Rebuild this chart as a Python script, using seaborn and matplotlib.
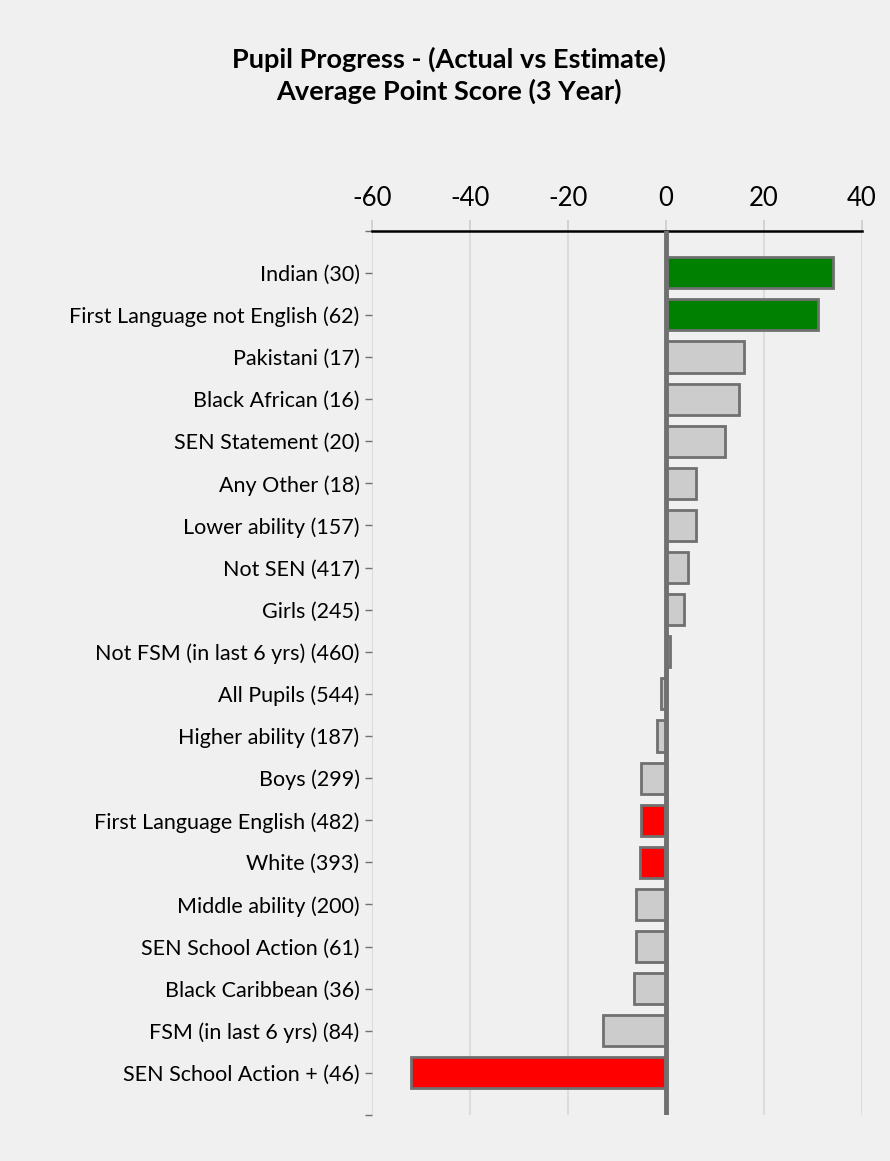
import numpy as np
import pandas as pd
import seaborn as sns
import matplotlib.pyplot as plt

groups = [
    "Indian (30)", "First Language not English (62)", "Pakistani (17)",
    "Black African (16)", "SEN Statement (20)", "Any Other (18)",
    "Lower ability (157)", "Not SEN (417)", "Girls (245)",
    "Not FSM (in last 6 yrs) (460)", "All Pupils (544)", "Higher ability (187)",
    "Boys (299)", "First Language English (482)", "White (393)",
    "Middle ability (200)", "SEN School Action (61)", "Black Caribbean (36)",
    "FSM (in last 6 yrs) (84)", "SEN School Action + (46)",
]
progress = [34.0, 31.1, 16.0, 15.0, 12.1, 6.2, 6.2, 4.4, 3.6, 0.9,
            -1.1, -1.8, -5.0, -5.0, -5.4, -6.2, -6.2, -6.6, -12.8, -52.1]
flag = ["good", "good", "none", "none", "none", "none", "none", "none", "none", "none",
        "none", "none", "none", "bad", "bad", "none", "none", "none", "none", "bad"]
xticks = [-60, -40, -20, 0, 20, 40]

flag_colours = {"good": "#008000", "bad": "#ff0000", "none": "#cccccc"}
df = pd.DataFrame({"group": groups, "progress": progress, "flag": flag})

sns.set_style("white")
plt.rcParams["font.family"] = ["Lato", "DejaVu Sans"]
plt.rcParams["text.color"] = "black"
plt.rcParams["xtick.color"] = "black"
plt.rcParams["ytick.color"] = "black"

fig = plt.figure(figsize=(8.9, 11.61), dpi=100, facecolor="#f0f0f0")
ax = fig.add_axes([0.418, 0.0396, 0.5505, 0.7617])
ax.set_facecolor("#f0f0f0")

sns.barplot(data=df, x="progress", y="group", hue="flag", palette=flag_colours,
            dodge=False, legend=False, width=0.74, edgecolor="#707070",
            linewidth=2, saturation=1, ax=ax, orient="h")

ax.set_xlim(-60, 40)
ax.set_ylim(20, -1)
for x in xticks:
    ax.axvline(x, color="#dcdcdc", lw=1.5, zorder=0)
ax.axvline(0, color="#707070", lw=3.5, zorder=5)

ax.xaxis.tick_top()
ax.set_xticks(xticks)
ax.set_xticklabels([str(x) for x in xticks])
ax.tick_params(axis="x", top=True, bottom=False, direction="out", length=8,
               width=1.2, color="#cccccc", labelcolor="black", labelsize=18.5, pad=6)
ax.tick_params(axis="y", left=True, direction="out", length=5, width=1,
               color="#707070", labelcolor="black", labelsize=15.5, pad=4)
ax.set_yticks([-1, 20], minor=True)
ax.tick_params(axis="y", which="minor", left=True, direction="out", length=5,
               width=1, color="#707070")
ax.set_xlabel("")
ax.set_ylabel("")

for s in ["left", "right", "bottom"]:
    ax.spines[s].set_visible(False)
ax.spines["top"].set_color("black")
ax.spines["top"].set_linewidth(1.8)

fig.text(0.5045, 1 - 47 / 1161, "Pupil Progress - (Actual vs Estimate)\nAverage Point Score (3 Year)",
         ha="center", va="top", fontsize=19.5, fontweight="bold", linespacing=1.3,
         color="black")

fig.savefig("out.png", dpi=100, facecolor=fig.get_facecolor())
